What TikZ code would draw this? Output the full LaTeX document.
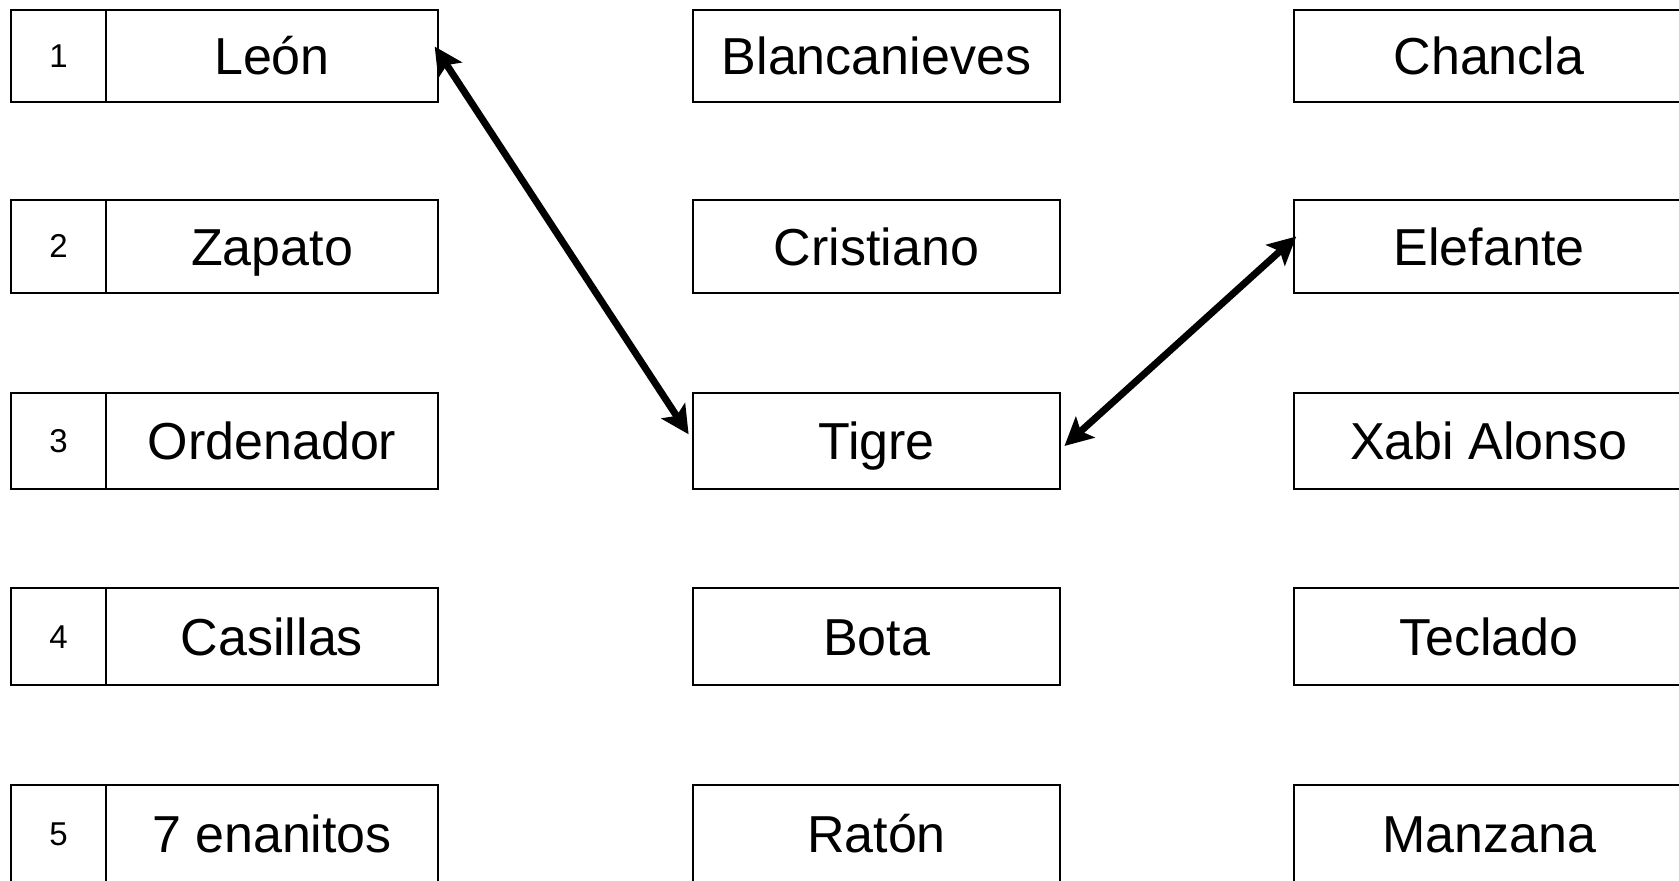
\documentclass[tikz,border=0pt]{standalone}
\usepackage{fontspec}
\setmainfont{Liberation Sans}
\usetikzlibrary{positioning,arrows.meta}

\tikzset{
  numbox/.style={draw, rectangle, line width=1pt, inner sep=0pt, outer sep=0pt, minimum width=47.5pt, text height=11.5pt, text depth=0pt, font=\fontsize{16.5}{19}\selectfont},
  leftbox/.style={draw, rectangle, line width=1pt, inner sep=0pt, outer sep=0pt, minimum width=166pt, text height=18.6pt, text depth=0pt, font=\fontsize{26}{30}\selectfont},
  midbox/.style={draw, rectangle, line width=1pt, inner sep=0pt, outer sep=0pt, minimum width=183.5pt, text height=18.6pt, text depth=0pt, font=\fontsize{26}{30}\selectfont},
  rightbox/.style={draw, rectangle, line width=1pt, inner sep=0pt, outer sep=0pt, minimum width=195pt, text height=18.6pt, text depth=0pt, font=\fontsize{26}{30}\selectfont},
  pair/.style={line width=3.5pt, {Stealth[length=14pt,width=14pt,inset=3pt]}-{Stealth[length=14pt,width=14pt,inset=3pt]}}
}

\begin{document}
\begin{tikzpicture}[x=0.5pt, y=-0.5pt]
\useasboundingbox (0,0) rectangle (1679,881);
\clip (0,0) rectangle (1679,881);

% left column
\node (one)  [numbox, minimum height=46pt] at (58.5,55.6) {1};
\node (leon) [leftbox, minimum height=46pt, right=0pt of one] {León};
\node (two)  [numbox, minimum height=46.5pt] at (58.5,246.5) {2};
\node (zapato) [leftbox, minimum height=46.5pt, right=0pt of two] {Zapato};
\node (three) [numbox, minimum height=48pt] at (58.5,441) {3};
\node (ordenador) [leftbox, minimum height=48pt, right=0pt of three] {Ordenador};
\node (four) [numbox, minimum height=48.5pt] at (58.5,636.5) {4};
\node (casillas) [leftbox, minimum height=48.5pt, right=0pt of four] {Casillas};
\node (five) [numbox, minimum height=48.5pt] at (58.5,833.5) {5};
\node (enanitos) [leftbox, minimum height=48.5pt, right=0pt of five] {7 enanitos};

% middle column
\node (blanca) [midbox, minimum height=46pt] at (876.5,55.6) {Blancanieves};
\node (cristiano) [midbox, minimum height=46.5pt] at (876.5,246.5) {Cristiano};
\node (tigre) [midbox, minimum height=48pt] at (876.5,441) {Tigre};
\node (bota) [midbox, minimum height=48.5pt] at (876.5,636.5) {Bota};
\node (raton) [midbox, minimum height=48.5pt] at (876.5,833.5) {Ratón};

% right column
\node (chancla) [rightbox, minimum height=46pt] at (1489,55.6) {Chancla};
\node (elefante) [rightbox, minimum height=46.5pt] at (1489,246.5) {Elefante};
\node (xabi) [rightbox, minimum height=48pt] at (1489,441) {Xabi Alonso};
\node (teclado) [rightbox, minimum height=48.5pt] at (1489,636.5) {Teclado};
\node (manzana) [rightbox, minimum height=48.5pt] at (1489,833.5) {Manzana};

\draw [pair, shorten <=-3pt, shorten >=4pt] ([yshift=2pt]leon.east) -- (tigre.west);
\draw [pair, shorten <=3pt, shorten >=-1.5pt] ([yshift=-4.5pt]tigre.east) -- ([yshift=4pt]elefante.west);
\end{tikzpicture}
\end{document}
